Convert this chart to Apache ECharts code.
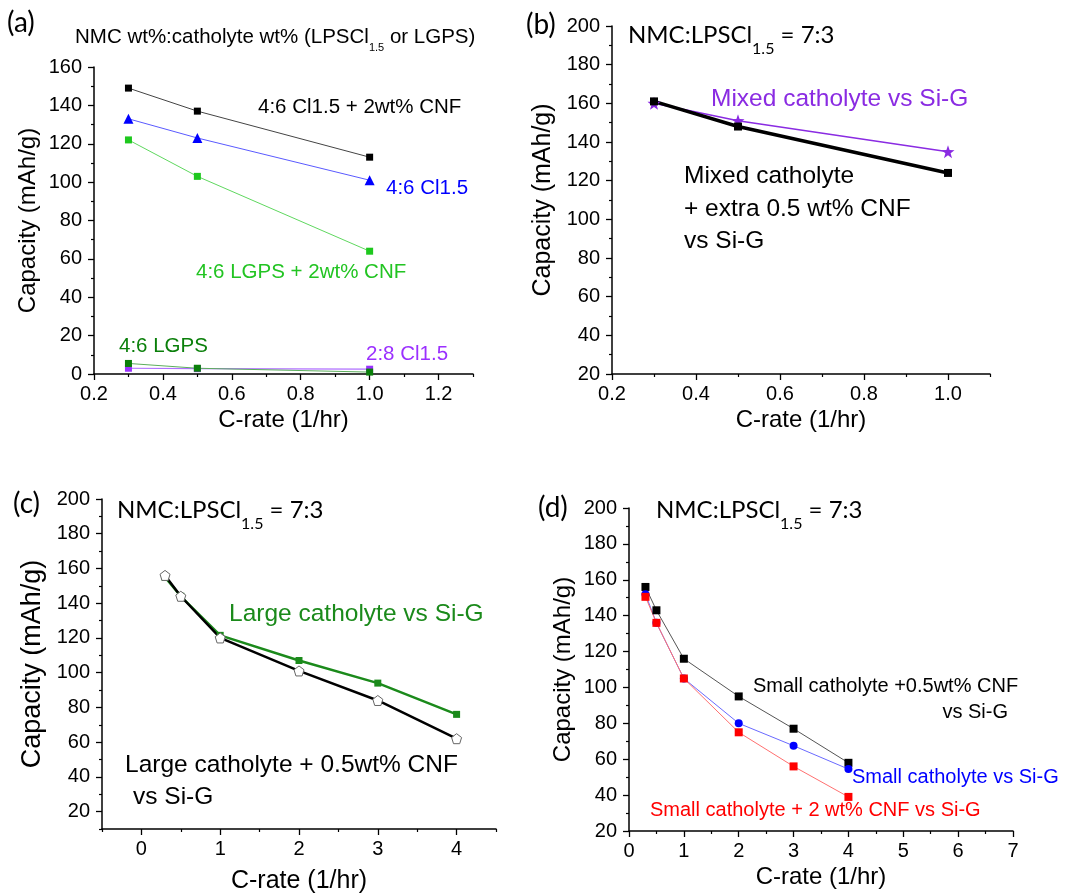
<!DOCTYPE html>
<html>
<head>
<meta charset="utf-8">
<script src="https://cdn.jsdelivr.net/npm/echarts@6/dist/echarts.min.js"></script>
<style>
html, body { margin: 0; padding: 0; background: #fff; }
#main { width: 1081px; height: 895px; }
</style>
</head>
<body>
<div id="main"></div>
<script>
// (a) NMC wt%:catholyte wt%
var rateA = [0.3, 0.5, 1.0];
var capA_cl15cnf = [149, 137, 113];
var capA_cl15 = [133, 123, 101];
var capA_lgpscnf = [122, 103, 64];
var capA_lgps = [5.5, 3, 1];
var capA_28cl15 = [3, 2.8, 2.5];

// (b) NMC:LPSCl1.5 = 7:3, mixed catholyte
var rateB = [0.3, 0.5, 1.0];
var capB_mixed = [160, 151, 135];
var capB_mixedcnf = [161, 148, 124];

// (c) large catholyte
var rateC = [0.3, 0.5, 1, 2, 3, 4];
var capC_large = [155, 144, 121.5, 107, 94, 76];
var capC_largecnf = [156, 144, 120, 101, 84, 62];

// (d) small catholyte
var rateD = [0.3, 0.5, 1, 2, 3, 4];
var capD_smallcnf05 = [156, 143, 116, 95, 77, 58];
var capD_small = [152, 136, 105, 80, 67.5, 54.5];
var capD_smallcnf2 = [150.5, 136, 105, 75, 56, 39];

// tick values
var xTicksA = [0.2, 0.4, 0.6, 0.8, 1.0, 1.2];
var xMinorA = [0.3, 0.5, 0.7, 0.9, 1.1, 1.3];
var yTicksA = [0, 20, 40, 60, 80, 100, 120, 140, 160];
var yMinorA = [10, 30, 50, 70, 90, 110, 130, 150];
var xTicksB = [0.2, 0.4, 0.6, 0.8, 1.0];
var xMinorB = [0.3, 0.5, 0.7, 0.9, 1.1];
var yTicks = [20, 40, 60, 80, 100, 120, 140, 160, 180, 200];
var yMinor = [30, 50, 70, 90, 110, 130, 150, 170, 190];
var yMinorC = [10, 30, 50, 70, 90, 110, 130, 150, 170, 190];
var xTicksC = [0, 1, 2, 3, 4];
var xMinorC = [-0.5, 0.5, 1.5, 2.5, 3.5, 4.5];
var xTicksD = [0, 1, 2, 3, 4, 5, 6, 7];
var xMinorD = [0.5, 1.5, 2.5, 3.5, 4.5, 5.5, 6.5];

var ARIAL = 'Liberation Sans';
var CALIBRI = 'Lato';

function pairs(xs, ys) {
    var out = [];
    for (var i = 0; i < xs.length; i++) {
        out.push([xs[i], ys[i]]);
    }
    return out;
}

function fmt1(v) { return v.toFixed(1); }
function fmt0(v) { return String(Math.round(v)); }

// main axis with labels + a bare axis carrying the short minor ticks
function makeAxes(dim, grid, min, max, major, minor, fmt, name, nameGap, nameSize) {
    var main = {
        type: 'value', gridIndex: grid, min: min, max: max,
        position: dim == 'x' ? 'bottom' : 'left',
        splitLine: { show: false },
        axisLine: { show: true, onZero: false, lineStyle: { color: '#000', width: 1.5 } },
        axisTick: { show: true, inside: false, length: 6, customValues: major, lineStyle: { color: '#000', width: 1.3 } },
        axisLabel: { show: true, customValues: major, formatter: fmt, color: '#000', fontSize: 20, fontFamily: ARIAL, margin: dim == 'x' ? 10 : 12 },
        name: name, nameLocation: 'middle', nameGap: nameGap,
        nameTextStyle: { color: '#000', fontSize: nameSize, fontFamily: ARIAL }
    };
    var sub = {
        type: 'value', gridIndex: grid, min: min, max: max,
        position: dim == 'x' ? 'bottom' : 'left',
        splitLine: { show: false },
        axisLine: { show: false, onZero: false },
        axisTick: { show: true, inside: false, length: 3, customValues: minor, lineStyle: { color: '#000', width: 1.2 } },
        axisLabel: { show: false }
    };
    return [main, sub];
}

var xAxes = [].concat(
    makeAxes('x', 0, 0.2, 1.3, xTicksA, xMinorA, fmt1, 'C-rate (1/hr)', 34, 24),
    makeAxes('x', 1, 0.2, 1.1, xTicksB, xMinorB, fmt1, 'C-rate (1/hr)', 34, 24),
    makeAxes('x', 2, -0.5, 4.5, xTicksC, xMinorC, fmt0, 'C-rate (1/hr)', 40, 25),
    makeAxes('x', 3, 0, 7, xTicksD, xMinorD, fmt0, 'C-rate (1/hr)', 34, 24)
);
var yAxes = [].concat(
    makeAxes('y', 0, 0, 160, yTicksA, yMinorA, fmt0, 'Capacity (mAh/g)', 54, 24),
    makeAxes('y', 1, 20, 200, yTicks, yMinor, fmt0, 'Capacity (mAh/g)', 56, 25),
    makeAxes('y', 2, 10, 200, yTicks, yMinorC, fmt0, 'Capacity (mAh/g)', 56, 27),
    makeAxes('y', 3, 20, 200, yTicks, yMinor, fmt0, 'Capacity (mAh/g)', 54, 24)
);

var starPath = 'path://M0,-10 L2.35,-3.24 L9.51,-3.09 L3.8,1.24 L5.88,8.09 L0,4 L-5.88,8.09 L-3.8,1.24 L-9.51,-3.09 L-2.35,-3.24 Z';
var pentPath = 'path://M0,-10 L9.51,-3.09 L5.88,8.09 L-5.88,8.09 L-9.51,-3.09 Z';

function line(grid, data, symbol, size, markColor, lineColor, width, extra) {
    var s = {
        type: 'line', xAxisIndex: grid * 2, yAxisIndex: grid * 2,
        data: data, symbol: symbol, symbolSize: size, showAllSymbol: true,
        animation: false,
        lineStyle: { color: lineColor, width: width },
        itemStyle: { color: markColor }
    };
    if (extra) { for (var k in extra) s[k] = extra[k]; }
    return s;
}

function txt(x, y, text, color, size, family, extra) {
    var st = { text: text, x: x, y: y, fill: color, font: size + 'px "' + family + '"', textVerticalAlign: 'middle', verticalAlign: 'middle', textAlign: 'left', align: 'left' };
    if (extra) { for (var k in extra) st[k] = extra[k]; }
    return { type: 'text', style: st, silent: true };
}

function subTitle(x, y) {
    return {
        type: 'text', silent: true,
        style: {
            x: x, y: y, text: '{m|NMC:LPSCl}{s|1.5}{m| = 7:3}',
            verticalAlign: 'middle', textVerticalAlign: 'middle',
            rich: {
                m: { fontSize: 24, fontFamily: CALIBRI, color: '#000', fill: '#000', lineHeight: 34, verticalAlign: 'top' },
                s: { fontSize: 16, fontFamily: CALIBRI, color: '#000', fill: '#000', lineHeight: 16, verticalAlign: 'bottom' }
            }
        }
    };
}

var myChart = echarts.init(document.getElementById('main'), null, { renderer: 'canvas' });

var option = {
    backgroundColor: '#fff',
    animation: false,
    grid: [
        { left: 94, top: 67, width: 379, height: 307, containLabel: false, outerBoundsMode: 'none' },
        { left: 612, top: 26, width: 378, height: 348, containLabel: false, outerBoundsMode: 'none' },
        { left: 102, top: 499, width: 394, height: 330, containLabel: false, outerBoundsMode: 'none' },
        { left: 629, top: 508, width: 384, height: 323, containLabel: false, outerBoundsMode: 'none' }
    ],
    xAxis: xAxes,
    yAxis: yAxes,
    series: [
        // (a)
        line(0, pairs(rateA, capA_cl15cnf), 'rect', 7, '#000', '#444', 1),
        line(0, pairs(rateA, capA_cl15), 'triangle', 10, '#0000ff', '#5a5aff', 1),
        line(0, pairs(rateA, capA_lgpscnf), 'rect', 7, '#1ec81e', '#5fd85f', 1),
        line(0, pairs(rateA, capA_28cl15), 'rect', 7, '#9b30ff', '#b070ff', 1.2),
        line(0, pairs(rateA, capA_lgps), 'rect', 7, '#0a7f0a', '#5cae5c', 1),
        // (b)
        line(1, pairs(rateB, capB_mixed), starPath, 13, '#8a2be2', '#8a2be2', 1.5),
        line(1, pairs(rateB, capB_mixedcnf), 'rect', 8, '#000', '#000', 3.5),
        // (c)
        line(2, pairs(rateC, capC_large), 'rect', 7, '#1b8a1b', '#1b8a1b', 2.5),
        line(2, pairs(rateC, capC_largecnf), pentPath, 10, '#fff', '#000', 2.5, { itemStyle: { color: '#fff', borderColor: '#666', borderWidth: 1 } }),
        // (d)
        line(3, pairs(rateD, capD_smallcnf05), 'rect', 8, '#000', '#555', 1),
        line(3, pairs(rateD, capD_small), 'circle', 8, '#0000ff', '#6a6aff', 1),
        line(3, pairs(rateD, capD_smallcnf2), 'rect', 8, '#ff0000', '#ff7070', 1)
    ],
    graphic: [
        // panel letters
        txt(7, 23, '(a)', '#000', 28, CALIBRI),
        txt(526, 25, '(b)', '#000', 28, CALIBRI),
        txt(13, 504, '(c)', '#000', 28, CALIBRI),
        txt(538, 508, '(d)', '#000', 28, CALIBRI),
        // (a) title with subscript
        {
            type: 'text', silent: true,
            style: {
                x: 75, y: 40, text: '{m|NMC wt%:catholyte wt% (LPSCl}{s|1.5}{m| or LGPS)}',
                verticalAlign: 'middle', textVerticalAlign: 'middle',
                rich: {
                    m: { fontSize: 20.5, fontFamily: ARIAL, color: '#000', fill: '#000', lineHeight: 26, verticalAlign: 'top' },
                    s: { fontSize: 11, fontFamily: ARIAL, color: '#000', fill: '#000', lineHeight: 11, verticalAlign: 'bottom' }
                }
            }
        },
        subTitle(628, 40),
        subTitle(117, 515),
        subTitle(656, 515),
        // (a) labels
        txt(258, 107, '4:6 Cl1.5 + 2wt% CNF', '#000', 20.5, ARIAL),
        txt(386, 188, '4:6 Cl1.5', '#0000ff', 20.5, ARIAL),
        txt(196, 272, '4:6 LGPS + 2wt% CNF', '#22c422', 20.5, ARIAL),
        txt(119, 346, '4:6 LGPS', '#0a7f0a', 20.5, ARIAL),
        txt(366, 354, '2:8 Cl1.5', '#9b30ff', 20.5, ARIAL),
        // (b) labels
        txt(711, 99, 'Mixed catholyte vs Si-G', '#8a2be2', 24.5, ARIAL),
        txt(684, 176, 'Mixed catholyte', '#000', 24.5, ARIAL),
        txt(684, 209, '+ extra 0.5 wt% CNF', '#000', 24.5, ARIAL),
        txt(684, 241, 'vs Si-G', '#000', 24.5, ARIAL),
        // (c) labels
        txt(229, 614, 'Large catholyte vs Si-G', '#1b8a1b', 24.5, ARIAL),
        txt(125, 765, 'Large catholyte + 0.5wt% CNF', '#000', 24.5, ARIAL),
        txt(133, 797, 'vs Si-G', '#000', 24.5, ARIAL),
        // (d) labels
        txt(753, 686, 'Small catholyte +0.5wt% CNF', '#000', 20, ARIAL),
        txt(1008, 712, 'vs Si-G', '#000', 20, ARIAL, { textAlign: 'right', align: 'right' }),
        txt(852, 777, 'Small catholyte vs Si-G', '#0000ff', 20, ARIAL),
        txt(650, 810, 'Small catholyte + 2 wt% CNF vs Si-G', '#ff0000', 20, ARIAL)
    ]
};

myChart.setOption(option);
</script>
</body>
</html>
